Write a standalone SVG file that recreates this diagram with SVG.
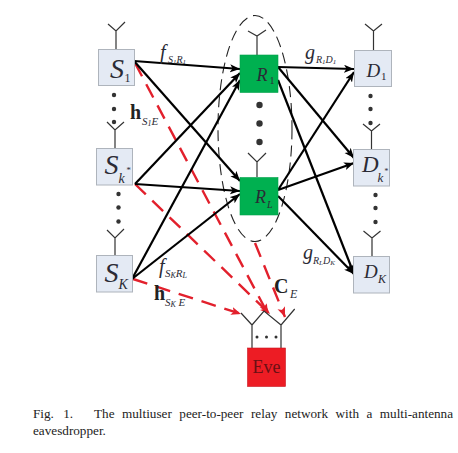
<svg xmlns="http://www.w3.org/2000/svg" width="458" height="453" viewBox="0 0 458 453">
<style>
text{font-family:"Liberation Serif","Times New Roman",serif;fill:#2b2b35}
.i{font-style:italic}
.b{font-weight:bold;fill:#222}
.box{fill:#e4eaf4;stroke:#aeb4bc;stroke-width:1}
.gr{fill:#00b050;stroke:#00a04a;stroke-width:.6}
.ant{fill:none;stroke:#333;stroke-width:1.2}
.dot{fill:#333}
.k{stroke:#000;stroke-width:2.2;fill:none;marker-end:url(#ka)}
.r{stroke:#e2202c;stroke-width:2.4;fill:none;stroke-dasharray:15 9;marker-end:url(#ra)}
.cap{font-size:13.200px;fill:#222}
</style>
<defs>
<marker id="ka" markerUnits="userSpaceOnUse" markerWidth="12" markerHeight="10" refX="10" refY="4" orient="auto"><path d="M0 0L10 4L0 8L2.5 4Z" fill="#000"/></marker>
<marker id="ra" markerUnits="userSpaceOnUse" markerWidth="12" markerHeight="10" refX="10" refY="4" orient="auto"><path d="M0 0L10 4L0 8L2.5 4Z" fill="#e2202c"/></marker>
</defs>
<ellipse id="relay-group" cx="255" cy="128.500" rx="37" ry="113" fill="none" stroke="#222" stroke-width="1.100" stroke-dasharray="11 6"/>
<g id="connectors">
<path class="r" d="M135 63L268 314"/>
<path class="r" d="M135 184L270 314"/>
<path class="r" d="M133 279L241 314"/>
<path class="r" d="M255 243L285 317"/>
<path class="k" d="M134 61L240 69"/>
<path class="k" d="M134 61L240 181"/>
<path class="k" d="M135 184L240 73"/>
<path class="k" d="M135 184L240 191"/>
<path class="k" d="M132 279L240 80"/>
<path class="k" d="M132 279L240 194"/>
<path class="k" d="M278 67L354 69"/>
<path class="k" d="M278 67L354 158"/>
<path class="k" d="M278 80L354 274"/>
<path class="k" d="M278 190L354 72"/>
<path class="k" d="M278 190L354 163"/>
<path class="k" d="M278 196L354 274"/>
</g>
<g id="S1"><path class="ant" d="M116 49V31M108 24L116 31L125 22"/><rect class="box" x="98.500" y="49.500" width="36" height="36"/><text class="i" x="110" y="78" font-size="28">S</text><text x="124.500" y="82" font-size="12">1</text></g>
<g id="Sk"><path class="ant" d="M115 148V130M107 122L115 130L124 122"/><rect class="box" x="96.500" y="148.500" width="36" height="36.500"/><text class="i" x="104.500" y="174" font-size="28">S</text><text class="i" x="118.500" y="183" font-size="14">k</text><text class="i" x="126" y="173" font-size="9">*</text></g>
<g id="SK"><path class="ant" d="M115 255V238M107 230L115 238L124 229"/><rect class="box" x="96.500" y="255.500" width="36" height="36.500"/><text class="i" x="104.500" y="282" font-size="28">S</text><text class="i" x="118.500" y="289" font-size="14">K</text></g>
<g id="R1"><path class="ant" d="M257 55V36M248 31L257 36L266 30"/><rect class="gr" x="240" y="55" width="38" height="37.500"/><text class="i" x="256.500" y="81" font-size="18">R</text><text x="269.500" y="84" font-size="10">1</text></g>
<g id="RL"><path class="ant" d="M257 177V162M248 153L257 162L266 153"/><rect class="gr" x="240" y="177.500" width="38" height="37.500"/><text class="i" x="255" y="203" font-size="18">R</text><text class="i" x="267" y="208" font-size="10">L</text></g>
<g id="D1"><path class="ant" d="M373.500 50V31M365 24L373.500 31L382 24"/><rect class="box" x="354.500" y="50.500" width="37" height="36"/><text class="i" x="366.500" y="77" font-size="19">D</text><text x="381" y="80" font-size="11">1</text></g>
<g id="Dk"><path class="ant" d="M371.500 149V131M363 124L371.500 131L380 124"/><rect class="box" x="353.500" y="149.500" width="36" height="36.500"/><text class="i" x="362" y="172" font-size="23">D</text><text class="i" x="377.500" y="182" font-size="13">k</text><text class="i" x="384" y="174" font-size="8">*</text></g>
<g id="DK"><path class="ant" d="M372 256V238M363.500 231L372 238L380.500 231"/><rect class="box" x="353.500" y="256.500" width="36" height="36.500"/><text class="i" x="364" y="278" font-size="19">D</text><text class="i" x="378" y="283" font-size="12">K</text></g>
<g id="Eve"><path class="ant" d="M252 348V325M241 313L252 325L264 311L281 325M281 348V325L294.700 309"/><rect x="247.500" y="348" width="38" height="38.500" fill="#ed1c24" stroke="#c9161e" stroke-width=".6"/><text x="266.500" y="373" font-size="18" text-anchor="middle" style="fill:#6a1014">Eve</text><circle class="dot" cx="257" cy="337" r="1.500"/><circle class="dot" cx="266.500" cy="337" r="1.500"/><circle class="dot" cx="276" cy="337" r="1.500"/></g>
<g id="dots">
<circle class="dot" cx="114" cy="95" r="2.200"/><circle class="dot" cx="114" cy="109" r="2.200"/><circle class="dot" cx="114" cy="122" r="2.200"/>
<circle class="dot" cx="118.500" cy="194" r="2.200"/><circle class="dot" cx="118.500" cy="207.500" r="2.200"/><circle class="dot" cx="118.500" cy="221.500" r="2.200"/>
<circle class="dot" cx="259.500" cy="105" r="3.200"/><circle class="dot" cx="259.500" cy="123.500" r="3.200"/><circle class="dot" cx="259.500" cy="142" r="3.200"/>
<circle class="dot" cx="370.500" cy="96" r="2.200"/><circle class="dot" cx="370.500" cy="109" r="2.200"/><circle class="dot" cx="370.500" cy="123" r="2.200"/>
<circle class="dot" cx="375.500" cy="195" r="2.200"/><circle class="dot" cx="375.500" cy="208" r="2.200"/><circle class="dot" cx="375.500" cy="222" r="2.200"/>
</g>
<g id="labels">
<text class="i" x="160" y="59" font-size="20">f</text><text class="i" x="168" y="63" font-size="10">S<tspan font-size="7" dy="1">1</tspan><tspan dy="-1">R</tspan><tspan font-size="7" dy="1">1</tspan></text>
<text class="b" x="130" y="119" font-size="20">h</text><text class="i" x="142" y="125" font-size="11">S<tspan font-size="8" dy="1">1</tspan><tspan dy="-1">E</tspan></text>
<text class="i" x="159" y="273" font-size="20">f</text><text class="i" x="165" y="277" font-size="11">S<tspan font-size="8" dy="1">K</tspan><tspan dy="-1">R</tspan><tspan font-size="8" dy="1">L</tspan></text>
<text class="b" x="154" y="300" font-size="20">h</text><text class="i" x="165" y="306" font-size="11">S<tspan font-size="8" dy="1">K</tspan><tspan dy="-1"> E</tspan></text>
<text class="i" x="305" y="59" font-size="20">g</text><text class="i" x="316" y="63" font-size="10">R<tspan font-size="7" dy="1">1</tspan><tspan dy="-1">D</tspan><tspan font-size="7" dy="1">1</tspan></text>
<text class="i" x="303" y="259" font-size="20">g</text><text class="i" x="313" y="264" font-size="10">R<tspan font-size="7" dy="1">L</tspan><tspan dy="-1">D</tspan><tspan font-size="7" dy="1">K</tspan></text>
<text class="b" x="274" y="293" font-size="20">C</text><text class="i" x="290" y="298" font-size="12">E</text>
</g>
<g id="caption">
<text class="cap" x="33" y="418" word-spacing="6">Fig. 1.</text>
<text class="cap" x="94" y="418" word-spacing="4.200">The multiuser peer-to-peer relay network with a multi-antenna</text>
<text class="cap" x="33" y="435">eavesdropper.</text>
</g>
</svg>
